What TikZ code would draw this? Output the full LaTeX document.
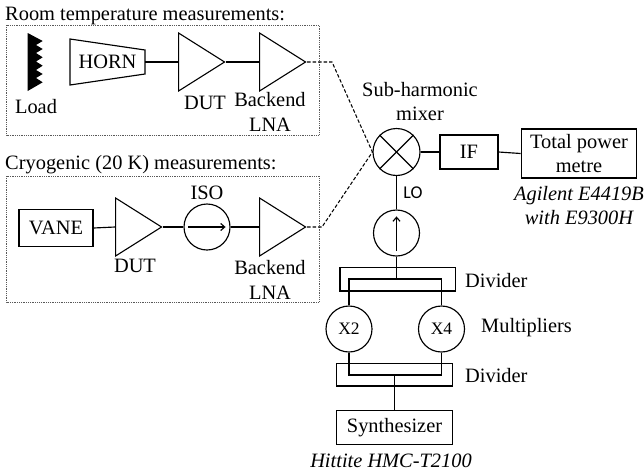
\documentclass[tikz,border=0pt]{standalone}
\usepackage{fontspec}
\setmainfont{Liberation Serif}
\newfontfamily\lofont{Carlito}
\usetikzlibrary{calc}
\usetikzlibrary{shapes.geometric}
\usetikzlibrary{arrows.meta}

\tikzset{
    lbl/.style={font=\fontsize{20.4}{23}\selectfont, align=center, inner sep=0pt},
    block/.style={draw, line width=1.2pt, inner sep=0pt, font=\fontsize{20.4}{23}\selectfont, align=center},
    round/.style={draw, circle, line width=1.15pt, inner sep=0pt, minimum size=46pt},
    amp/.style={draw, isosceles triangle, isosceles triangle stretches, line width=1.1pt, inner sep=0pt,
        minimum width=58pt, minimum height=46pt, anchor=apex},
    wire/.style={line width=1.15pt},
    feed/.style={line width=1.05pt, dash pattern=on 3.5pt off 2pt},
    zone/.style={draw=black!65, line width=0.8pt, densely dotted}
}

\begin{document}
\begin{tikzpicture}[x=1pt, y=-1pt]
    \useasboundingbox (0,0) rectangle (644,474);

    % Draw the two dotted measurement zones
    \draw[zone] (6.5,25) rectangle (319,135);
    \draw[zone] (6.5,176) rectangle (319,302);
    \node[lbl, anchor=base west] (roomtitle) at (5,20.5) {Room temperature measurements:};
    \node[lbl, anchor=base west] (cryotitle) at (5,169) {Cryogenic (20 K) measurements:};

    % Draw the load and the horn
    \fill (27.7,33) -- (42.7,41) -- (36,45) -- (42.7,49) -- (36,53) -- (42.7,57.3) -- (36,61.5)
        -- (42.7,65.7) -- (36,70) -- (42.7,74) -- (36,78) -- (42.7,82.3) -- (27.7,91) -- cycle;
    \node[lbl] (loadlabel) at (36,107) {Load};
    \draw[wire] (70,39) -- (145,50) -- (145,74) -- (70,85) -- cycle;
    \node[lbl, minimum width=75pt, minimum height=24pt] (horn) at (107.5,62) {HORN};

    % Draw the amplifiers of both chains
    \node[amp] (dutA) at (226,62) {};
    \node[amp] (lnaA) at (307,62) {};
    \node[amp] (dutB) at (163,227) {};
    \node[amp] (lnaB) at (307,227) {};
    \node[lbl] (dutAlabel) at (205,103) {DUT};
    \node[lbl, anchor=north] (lnaAlabel) at (270,92) {Backend\\[2.5pt]LNA};
    \node[lbl] (dutBlabel) at (135,266) {DUT};
    \node[lbl, anchor=north] (lnaBlabel) at (270,260) {Backend\\[2.5pt]LNA};

    % Draw the cryogenic chain
    \node[block, minimum width=74pt, minimum height=37pt] (vane) at (56,228) {VANE};
    \node[round] (iso) at (207,227) {};
    \node[lbl] (isolabel) at (207,193) {ISO};
    \draw[wire, -{Straight Barb[length=4pt,width=7pt]}] (iso.180) ++(5,0) -- ($(iso.0)+(-5,0)$);

    % Draw the mixer, the IF and the power metre
    \node[round, minimum size=47pt] (mixer) at (396.5,152) {};
    \draw[wire] (mixer.45) -- (mixer.225);
    \draw[wire] (mixer.135) -- (mixer.315);
    \node[lbl] (mixertext) at (420,102) {Sub-harmonic\\[1pt]mixer};
    \node[block, line width=1.1pt, minimum width=58pt, minimum height=34pt] (if) at (469,152) {IF};
    \node[block, minimum width=115.5pt, minimum height=49pt] (metre) at (579,153.5) {Total power\\[1pt]metre};
    \node[lbl, font=\fontsize{20.4}{23}\itshape] (metrelabel) at (579,206) {Agilent E4419B\\[1pt]with E9300H};
    \node[lbl, font=\lofont\fontsize{18}{20}\selectfont] (lolabel) at (413,193) {LO};

    % Draw the LO source and the dividers
    \node[round] (source) at (396.5,233) {};
    \draw[wire, -{Straight Barb[length=4pt,width=7pt]}] ($(source.south)+(0,-6)$) -- ($(source.north)+(0,7)$);
    \node[block, line width=1.5pt, minimum width=115.5pt, minimum height=23.5pt] (divA) at (397.7,279.2) {};
    \node[block, line width=1.5pt, minimum width=116pt, minimum height=22.5pt] (divB) at (394.5,374.7) {};
    \node[lbl, anchor=west] (divAlabel) at (465,281) {Divider};
    \node[lbl, anchor=west] (divBlabel) at (465,376) {Divider};

    % Draw the multipliers
    \node[round, font=\fontsize{17.5}{20}\selectfont] (xtwo) at (349,329) {X2};
    \node[round, font=\fontsize{17.5}{20}\selectfont] (xfour) at (441.5,329) {X4};
    \node[lbl, anchor=west] (multlabel) at (481,328) {Multipliers};
    \node[block, line width=1.05pt, minimum width=116pt, minimum height=34pt] (synth) at (394.5,427.5) {Synthesizer};
    \node[lbl, font=\fontsize{20.4}{23}\itshape] (synthlabel) at (391,461) {Hittite HMC-T2100};

    % Connect everything
    \draw[wire] (horn.east) -- (dutA.lower side);
    \draw[wire] (dutA.apex) -- (lnaA.lower side);
    \draw[wire] (vane.east) -- (dutB.lower side);
    \draw[wire] (dutB.apex) -- (iso.west);
    \draw[wire] (iso.east) -- (lnaB.lower side);
    \draw[feed] (lnaA.apex) -- (332,62) -- (mixer.west);
    \draw[feed] (lnaB.apex) -- (322,227) -- (mixer.west);
    \draw[wire] (mixer.east) -- (if.west);
    \draw[wire] (if.east) -- (metre.west);
    \draw[wire] (mixer.south) -- (source.north);
    \draw[wire] (source.south) -- (396.5,279) coordinate (splitA);
    \draw[wire] (xtwo.north) |- (splitA) -| (xfour.north);
    \coordinate (splitB) at (394.5,375);
    \draw[wire] (xtwo.south) |- (splitB) -| (xfour.south);
    \draw[wire] (splitB) -- (synth.north);
\end{tikzpicture}
\end{document}
